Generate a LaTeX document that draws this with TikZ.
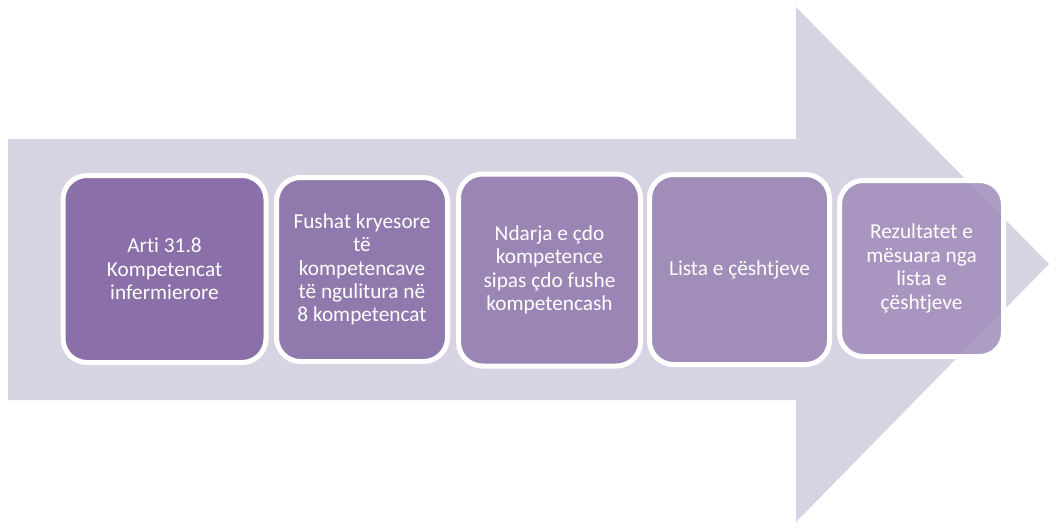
\documentclass[tikz,border=0pt]{standalone}
\usepackage{fontspec}
\setmainfont{Carlito}[Ligatures=NoCommon]
\begin{document}
\begin{tikzpicture}[x=1pt,y=-1pt,
  stepbox/.style={draw=white,line width=5pt,rounded corners=24pt,
    text=white,align=center,inner sep=0pt,
    font=\fontsize{21.3}{23.4}\selectfont},
]
\definecolor{arrowbg}{RGB}{215,211,227}
\definecolor{cA}{RGB}{138,111,168}
\definecolor{cB}{RGB}{144,122,173}
\definecolor{cC}{RGB}{154,133,181}
\definecolor{cD}{RGB}{160,142,185}
\definecolor{cE}{RGB}{160,140,186}
\useasboundingbox (0,0) rectangle (1049,528);
\fill[arrowbg] (8,139) -- (796,139) -- (796,7) -- (1049,264) -- (796,522) -- (796,400) -- (8,400) -- cycle;
\node[stepbox,fill=cA,minimum width=203pt,minimum height=187pt] (b1) at (164.5,269) {Arti 31.8\\Kompetencat\\infermierore};
\node[stepbox,fill=cB,minimum width=171pt,minimum height=184pt] (b2) at (362,269.5) {Fushat kryesore\\të\\kompetencave\\të ngulitura në\\8 kompetencat};
\node[stepbox,fill=cC,minimum width=182pt,minimum height=192pt] (b3) at (549.5,270) {Ndarja e çdo\\kompetence\\sipas çdo fushe\\kompetencash};
\node[stepbox,fill=cD,minimum width=180pt,minimum height=190pt] (b4) at (739.5,269.5) {Lista e çështjeve};
\node[stepbox,fill=cE,fill opacity=0.85,text opacity=1,minimum width=164pt,minimum height=176pt] (b5) at (921.5,268.5) {Rezultatet e\\mësuara nga\\lista e\\çështjeve};
\end{tikzpicture}
\end{document}
